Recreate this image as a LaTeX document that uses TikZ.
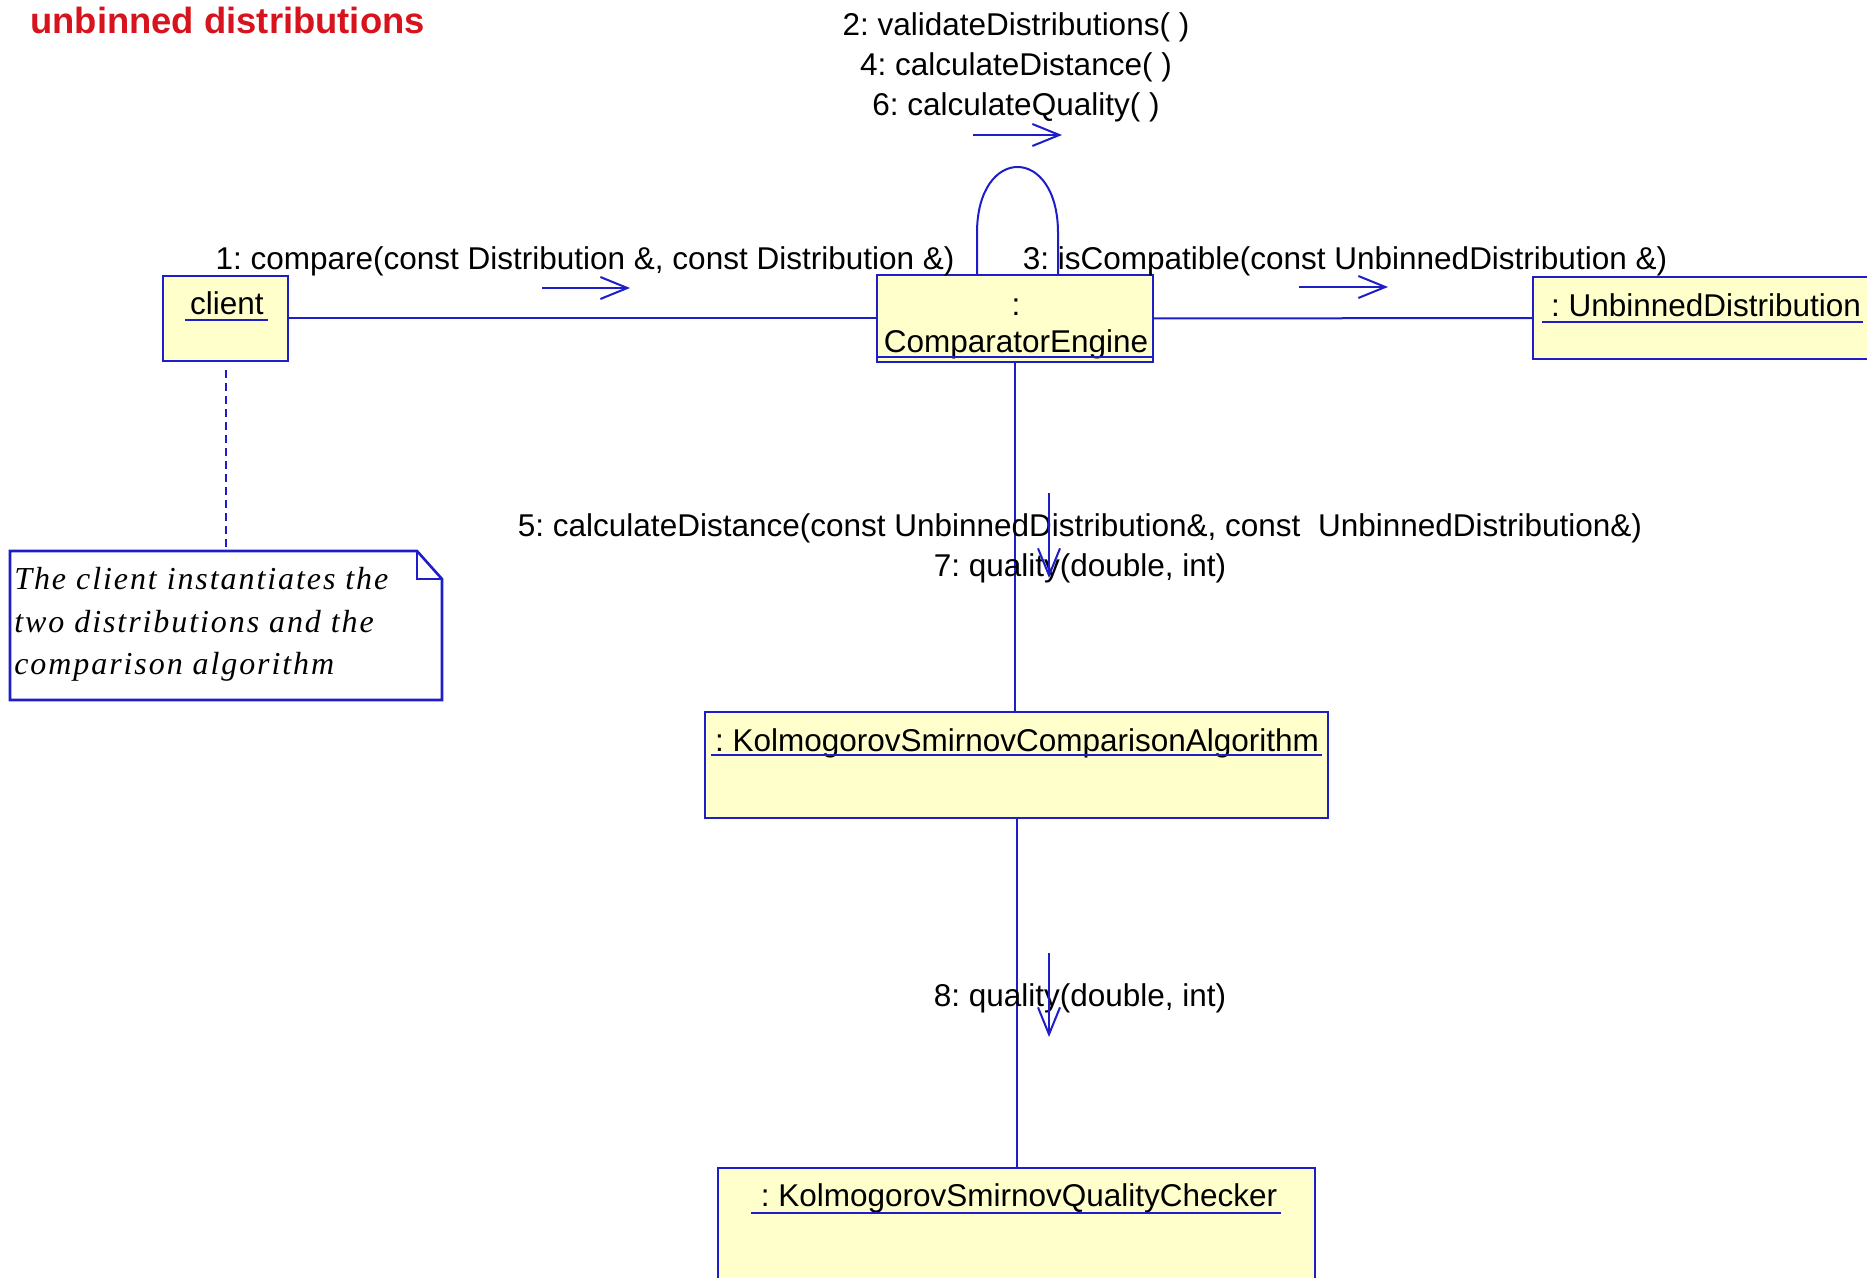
\documentclass[tikz,border=0pt]{standalone}
\usepackage{fontspec}
\setmainfont{Liberation Sans}
\newfontfamily\notefont{Liberation Serif}[LetterSpace=6]
\usetikzlibrary{arrows.meta,fit,calc}
\definecolor{umlblue}{RGB}{30,30,200}
\definecolor{umlfill}{RGB}{255,255,204}
\definecolor{titlered}{RGB}{215,20,30}
\frenchspacing
\begin{document}
\begin{tikzpicture}[x=0.5pt,y=-0.5pt,
  obj/.style={draw=umlblue, fill=umlfill, line width=1.3pt, inner sep=0pt, outer sep=0pt},
  lbl/.style={font=\fontsize{15.75}{20}\selectfont, inner sep=0pt, text=black, align=center},
  notetext/.style={font=\notefont\itshape\fontsize{16}{21}\selectfont, inner sep=0pt, anchor=base west},
  uline/.style={draw=umlblue, line width=1pt},
  link/.style={draw=umlblue, line width=1pt},
  dlink/.style={draw=umlblue, line width=1pt, dash pattern=on 4pt off 2.5pt},
  msg/.style={draw=umlblue, line width=1pt, -{Straight Barb[length=13.5pt,width=11pt,line width=1pt]}},
  titlestyle/.style={font=\fontsize{18.2}{21}\bfseries\selectfont, text=titlered, inner sep=0pt}]
\useasboundingbox (0,0) rectangle (1867,1278);
\fill[white] (0,0) rectangle (1867,1278);

% title
\node[titlestyle, anchor=west] (title) at (30,20) {unbinned distributions};

% objects
\node[obj, fit={(163,276) (288,361)}] (client) {};
\node[lbl] (clientname) at (227,303) {client};
\draw[uline] (185,320) -- (268,320);

\node[obj, fit={(877,275) (1153,362)}] (ce) {};
\node[lbl] (cecolon) at (1016,307) {:};
\node[lbl] (cename) at (1016,344) {ComparatorEngine};
\draw[uline] (877,357) -- (1153,357);

\node[obj, fit={(1533,277) (1890,359)}] (ud) {};
\node[lbl] (udname) at (1706,305) {: UnbinnedDistribution};
\draw[uline] (1542,322) -- (1863,322);

\node[obj, fit={(705,712) (1328,818)}] (algo) {};
\node[lbl] (algoname) at (1017,743) {: KolmogorovSmirnovComparisonAlgorithm};
\draw[uline] (711,755) -- (1322,755);

\node[obj, fit={(718,1168) (1315,1295)}] (checker) {};
\node[lbl] (checkername) at (1019,1198) {: KolmogorovSmirnovQualityChecker};
\draw[uline] (751,1213) -- (1281,1213);

% note
\node[fit={(10,551) (442,700)}, inner sep=0pt, outer sep=0pt] (note) {};
\draw[draw=umlblue, fill=white, line width=1.3pt] (note.north west) -- (417,551) -- (442,579) -- (note.south east) -- (note.south west) -- cycle;
\draw[draw=umlblue, line width=1.3pt] (417,551) -- (417,579) -- (442,579);
\node[notetext] (note1) at (14,589) {The client instantiates the};
\node[notetext] (note2) at (14,632) {two distributions and the};
\node[notetext] (note3) at (14,674) {comparison algorithm};

% connectors
\draw[link] (client.east) -- (ce.west);
\draw[link] (ce.east) -- (ud.west);
\draw[link] (ce.south) -- (ce.south |- algo.north);
\draw[link] (algo.south) -- (algo.south |- checker.north);
\draw[dlink, shorten <=4.5pt] (client.south) -- (client.south |- note.north);

% self loop
\coordinate (loopL) at ($(ce.north)+(-38,0)$);
\coordinate (loopR) at ($(ce.north)+(43,0)$);
\draw[link] (loopL) -- ++(0,-42) .. controls ++(0,-88) and ($(loopR)+(0,-130)$) .. ($(loopR)+(0,-42)$) -- (loopR);

% message labels
\node[lbl] (lbl246) at (1016,67) {2: validateDistributions( )\\4: calculateDistance( )\\6: calculateQuality( )};
\node[lbl] (lbl1) at (585,261) {1: compare(const Distribution \&, const Distribution \&)};
\node[lbl] (lbl3) at (1345,261) {3: isCompatible(const UnbinnedDistribution \&)};
\node[lbl] (lbl57) at (1080,548) {5: calculateDistance(const UnbinnedDistribution\&, const\ \ UnbinnedDistribution\&)\\7: quality(double, int)};
\node[lbl] (lbl8) at (1080,998) {8: quality(double, int)};

% message arrows
\coordinate (m1s) at (542,288); \coordinate (m1e) at (630,288);
\coordinate (m3s) at (1299,287); \coordinate (m3e) at (1388,287);
\coordinate (m2s) at (973,135); \coordinate (m2e) at (1062,135);
\coordinate (m5s) at (1049,493); \coordinate (m5e) at (1049,578);
\coordinate (m8s) at (1049,953); \coordinate (m8e) at (1049,1037);
\draw[msg] (m1s) -- (m1e);
\draw[msg] (m3s) -- (m3e);
\draw[msg] (m2s) -- (m2e);
\draw[msg] (m5s) -- (m5e);
\draw[msg] (m8s) -- (m8e);
\end{tikzpicture}
\end{document}
